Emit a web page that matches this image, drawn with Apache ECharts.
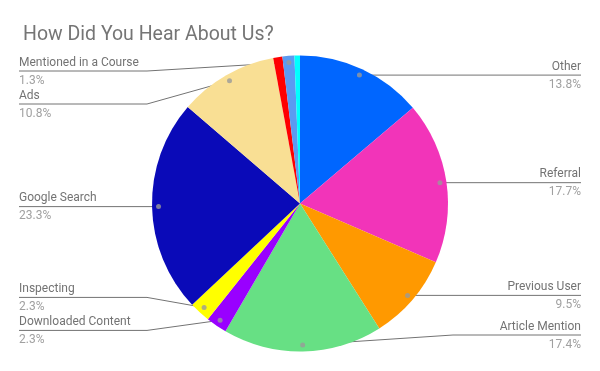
<!DOCTYPE html>
<html>
<head>
<meta charset="utf-8">
<script src="https://cdn.jsdelivr.net/npm/echarts@6/dist/echarts.min.js"></script>
<style>html,body{margin:0;padding:0;background:#fff}#c{width:600px;height:371px}</style>
</head>
<body>
<div id="c"></div>
<script>
// ---- data ----
var categories = ['Other', 'Referral', 'Previous User', 'Article Mention', 'Downloaded Content', 'Inspecting', 'Google Search', 'Ads', 'Unlabeled A', 'Mentioned in a Course', 'Unlabeled B'];
var values = [13.8, 17.7, 9.5, 17.4, 2.3, 2.3, 23.3, 10.8, 1.0, 1.3, 0.6];
var labelled = [true, true, true, true, true, true, true, true, false, true, false];
var colors = ['#0066ff', '#f234b9', '#ff9900', '#67e084', '#9900ff', '#ffff00', '#0a0ab8', '#f9df94', '#ff0000', '#5b9bf1', '#00ffff'];

// ---- layout constants (style only) ----
var CX = 300, CY = 203.5, R = 148, DOT_K = 0.956;
var LABEL_TOP = 54.5, LABEL_BOTTOM = 351.5, LABEL_H = 33;

var total = values.reduce(function (a, b) { return a + b; }, 0);
var pieData = categories.map(function (n, i) {
  var item = { name: n, value: values[i], itemStyle: { color: colors[i] } };
  if (!labelled[i]) { item.label = { show: false }; item.labelLine = { show: false }; }
  return item;
});

// mid angles (percent of full turn) for dots and label anchors
var dotData = [];
var anchors = [];
var acc = 0;
values.forEach(function (v, i) {
  var mid = (acc + v / 2) / total * 100;
  acc += v;
  if (labelled[i]) {
    dotData.push([DOT_K, mid]);
    var th = mid / 100 * Math.PI * 2;
    anchors.push({ i: i, left: Math.sin(th) < 0, y: CY - R * DOT_K * Math.cos(th) });
  }
});

// resolve label overlaps per side (symmetric clustering inside bounds)
var labelY = {};
function resolveSide(items) {
  items.sort(function (a, b) { return a.y - b.y; });
  var clusters = items.map(function (it) { return { m: [it] }; });
  function place(c) {
    var mean = c.m.reduce(function (s, it) { return s + it.y; }, 0) / c.m.length;
    var hgt = c.m.length * LABEL_H;
    var start = mean - hgt / 2;
    if (start < LABEL_TOP) start = LABEL_TOP;
    if (start + hgt > LABEL_BOTTOM) start = LABEL_BOTTOM - hgt;
    c.start = start; c.end = start + hgt;
  }
  var merged = true;
  while (merged) {
    merged = false;
    clusters.forEach(place);
    for (var k = 1; k < clusters.length; k++) {
      if (clusters[k - 1].end > clusters[k].start + 0.01) {
        clusters[k - 1].m = clusters[k - 1].m.concat(clusters[k].m);
        clusters.splice(k, 1);
        merged = true;
        break;
      }
    }
  }
  clusters.forEach(function (c) {
    c.m.forEach(function (it, k) { labelY[it.i] = c.start + LABEL_H * k + LABEL_H / 2; });
  });
}
resolveSide(anchors.filter(function (a) { return a.left; }));
resolveSide(anchors.filter(function (a) { return !a.left; }));

var chart = echarts.init(document.getElementById('c'), null, { renderer: 'canvas' });
chart.setOption({
  animation: false,
  textStyle: { fontFamily: 'Roboto' },
  title: {
    text: 'How Did You Hear About Us?',
    left: 18, top: 20,
    textStyle: { fontFamily: 'Roboto', fontSize: 19.5, fontWeight: 'normal', color: '#757575' }
  },
  polar: { center: [CX, CY], radius: R },
  angleAxis: { type: 'value', min: 0, max: 100, startAngle: 90, clockwise: true, show: false },
  radiusAxis: { type: 'value', min: 0, max: 1, show: false },
  series: [{
    type: 'pie',
    left: 0, right: 0, top: 0, bottom: 0,
    center: [CX, CY],
    radius: R,
    startAngle: 90,
    clockwise: true,
    percentPrecision: 1,
    avoidLabelOverlap: false,
    itemStyle: { borderWidth: 0 },
    emphasis: { disabled: true },
    label: {
      show: true,
      position: 'outside',
      alignTo: 'edge',
      edgeDistance: 19,
      overflow: 'none',
      formatter: function (p) { return '{n|' + p.name + '}\n{p|' + p.percent.toFixed(1) + '%}'; },
      rich: {
        n: { fontFamily: 'Roboto', fontSize: 12, color: '#737373', lineHeight: 19 },
        p: { fontFamily: 'Roboto', fontSize: 12, color: '#a0a0a0', lineHeight: 17 }
      }
    },
    labelLine: { show: true, length: 0, length2: 0, lineStyle: { color: '#737373', width: 1 } },
    labelLayout: function (p) {
      if (!p.labelLinePoints || labelY[p.dataIndex] == null) return {};
      var s = p.labelLinePoints[0];
      var r = p.labelRect;
      var isLeft = r.x + r.width / 2 < CX;
      var y = labelY[p.dataIndex];
      var sx = CX + (s[0] - CX) * DOT_K, sy = CY + (s[1] - CY) * DOT_K;
      var turnX = isLeft ? CX - R - 5 : CX + R + 5;
      var endX = isLeft ? r.x : r.x + r.width;
      return { y: y, verticalAlign: 'middle', labelLinePoints: [[sx, sy], [turnX, y], [endX, y]] };
    },
    data: pieData,
    z: 2
  }, {
    type: 'scatter',
    coordinateSystem: 'polar',
    symbolSize: 5,
    itemStyle: { color: '#9a9a9a' },
    silent: true,
    data: dotData,
    z: 5
  }]
});
</script>
</body>
</html>
